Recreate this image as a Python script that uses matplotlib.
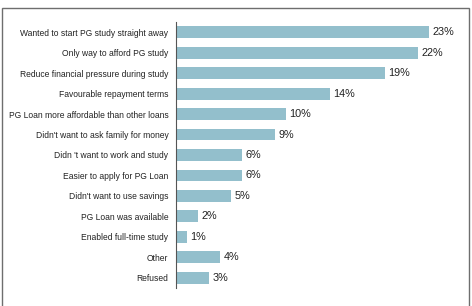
import matplotlib.pyplot as plt
from matplotlib.patches import Rectangle

plt.rcParams['font.family'] = ['Liberation Sans', 'DejaVu Sans']

reasons = [
    "Wanted to start PG study straight away",
    "Only way to afford PG study",
    "Reduce financial pressure during study",
    "Favourable repayment terms",
    "PG Loan more affordable than other loans",
    "Didn't want to ask family for money",
    "Didn 't want to work and study",
    "Easier to apply for PG Loan",
    "Didn't want to use savings",
    "PG Loan was available",
    "Enabled full-time study",
    "Other",
    "Refused",
]
percent = [23, 22, 19, 14, 10, 9, 6, 6, 5, 2, 1, 4, 3]

W, H = 472, 306
fig = plt.figure(figsize=(W / 100, H / 100), dpi=100)

# outer frame (bottom edge runs off the image)
fig.patches.append(Rectangle((1.5 / W, -0.05), (469 - 1.5) / W, 1.05 - 8.5 / H,
                             transform=fig.transFigure, fill=False,
                             edgecolor="#6e6e6e", linewidth=1.0))

ax = fig.add_axes([176 / W, 1 - 288 / H, 284 / W, (288 - 22) / H])
pos = list(range(len(reasons)))
ax.barh(pos, percent, height=0.58, color="#93bfcc")
ax.set_ylim(len(reasons) - 0.5, -0.5)
ax.set_xlim(0, 284 / 11)

for p, v in zip(pos, percent):
    ax.text(v + 0.3, p, f"{v}%", va="center", ha="left", fontsize=7.8, color="#222222")

ax.set_yticks(pos)
ax.set_yticklabels(reasons, fontsize=6.15, color="#222222")
ax.tick_params(axis="y", length=0, pad=5.5)
ax.set_xticks([])
for s in ["top", "right", "bottom"]:
    ax.spines[s].set_visible(False)
ax.spines["left"].set_color("#555555")
ax.spines["left"].set_linewidth(0.8)

fig.savefig("out.png", dpi=100)
